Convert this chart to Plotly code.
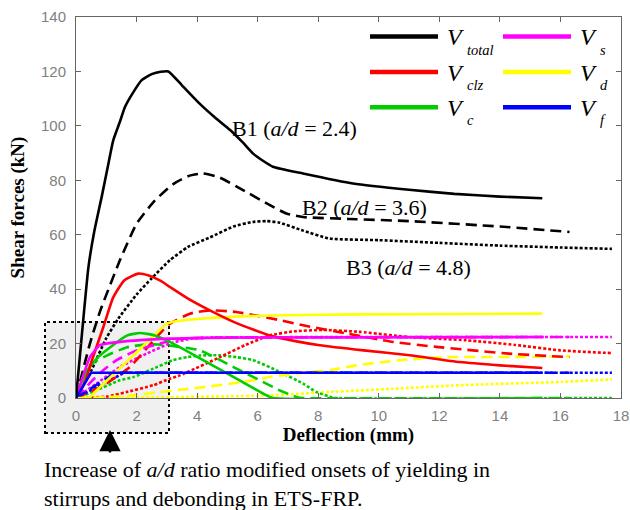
import plotly.graph_objects as go

# ---------------- data (deflection in mm, shear force in kN) ----------------
# Beam B1 (a/d = 2.4), solid lines
B1_total_x = [0, 0.2, 0.41, 0.6, 0.85, 1.05, 1.23, 1.45, 1.62, 1.9, 2.17, 2.5, 2.8, 3.05, 3.5, 4.1, 4.6, 5.1, 5.5, 5.85, 6.2, 6.5, 7.5, 9.15, 11, 12.5, 14, 15.4]
B1_total_y = [0, 24, 48, 61, 74, 85, 94.7, 101.5, 107, 112.5, 116.8, 119, 119.9, 120, 114.9, 108, 103, 98.4, 94, 89.8, 87, 85, 82.5, 78.8, 76.5, 75, 74, 73.4]
B1_clz_x = [0, 0.3, 0.53, 0.9, 1.23, 1.6, 2.06, 2.4, 2.8, 3.1, 3.7, 4.42, 5.3, 6.4, 7.2, 8.05, 9.5, 11.02, 12.67, 14, 15.4]
B1_clz_y = [0, 6, 14, 26, 37, 43.3, 45.7, 45, 43, 40.8, 36.5, 32.2, 27.5, 23, 21, 19.4, 17.5, 15.7, 13.2, 12, 11]
B1_c_x = [0, 0.3, 0.68, 1.23, 1.7, 2.11, 2.6, 3.1, 4.2, 5.3, 6.29, 6.5, 15.4]
B1_c_y = [0, 9, 14.5, 19.5, 23, 23.9, 23, 20.6, 13.9, 7.1, 1, 0, 0]
B1_s_x = [0, 0.2, 0.46, 0.79, 1.45, 3.1, 5, 15.4]
B1_s_y = [0, 7, 15, 19.4, 20.6, 21.8, 22.2, 22.4]
B1_d_x = [0, 0.45, 0.68, 1.34, 2.0, 2.6, 3.0, 3.2, 4.2, 6, 8, 11, 15.4]
B1_d_y = [0, 0.3, 2.8, 9.8, 16.8, 23.2, 27.3, 28, 29.2, 30.2, 30.6, 30.8, 31]
B1_f_x = [0, 0.5, 15.4]
B1_f_y = [0, 9.3, 9.3]

# Beam B2 (a/d = 3.6), dashed lines
B2_total_x = [0, 0.46, 0.8, 1.45, 2.0, 2.6, 3.2, 3.7, 4.2, 4.75, 5.5, 6.3, 6.95, 7.5, 9, 11, 14, 16.3]
B2_total_y = [0, 20, 32, 50.6, 64, 72.5, 78.5, 81.5, 82.5, 81, 76.5, 71.5, 67.8, 66.5, 65.8, 65, 63, 61]
B2_clz_x = [0, 0.9, 1.78, 2.66, 3.1, 3.76, 4.42, 5.3, 6.73, 7.5, 8.93, 10.47, 11.9, 14.3, 16.3]
B2_clz_y = [0, 4.6, 11.4, 22.4, 27.3, 31, 32.2, 31.6, 28.6, 26.7, 23.7, 20.6, 18.8, 16.3, 15]
B2_c_x = [0, 0.46, 1.0, 1.67, 2.4, 2.77, 3.0, 4.09, 5.3, 6.07, 6.73, 7.3, 7.5, 16.3]
B2_c_y = [0, 12, 15.5, 18.6, 19.8, 19.6, 19.4, 17.5, 10.8, 6.5, 2.8, 0.3, 0, 0]
B2_s_x = [0, 0.5, 0.9, 1.34, 2.0, 2.77, 3.5, 5, 16.3]
B2_s_y = [0, 6, 10.2, 13.9, 17.5, 20, 21.8, 22.2, 22.4]
B2_d_x = [0, 1.0, 1.9, 2.77, 3.76, 5.52, 6.4, 7.72, 8.38, 9.26, 10.7, 12.1, 14.5, 16.3]
B2_d_y = [0, 0.3, 1, 2.2, 3.4, 5.9, 7.7, 9.6, 10.2, 12, 13.9, 15, 15.1, 15.3]
B2_f_x = [0, 1.3, 16.3]
B2_f_y = [0, 9.3, 9.3]

# Beam B3 (a/d = 4.8), dotted lines
B3_total_x = [0, 0.5, 1.0, 1.4, 2.0, 2.5, 3.1, 3.7, 4.42, 5.2, 5.84, 6.3, 6.7, 7.5, 8.38, 10, 12, 14, 16, 17.7]
B3_total_y = [0, 10, 22, 29.2, 38, 44, 50.6, 55.5, 59, 63, 64.7, 65, 64.5, 61.5, 58.6, 58, 57, 56, 55.3, 54.8]
B3_clz_x = [0, 1.0, 1.67, 2.55, 3.1, 3.43, 4.75, 5.6, 6.4, 7.2, 8.16, 9.37, 11, 12.9, 14.5, 16, 17.7]
B3_clz_y = [0, 0.5, 2.2, 4.7, 7.1, 8.3, 15, 19.5, 23, 24.5, 25, 24.3, 22.4, 21.2, 19.5, 17.5, 16.5]
B3_c_x = [0, 0.5, 1.45, 1.9, 2.5, 3.2, 3.66, 4.09, 4.75, 5.3, 5.85, 6.73, 7.5, 7.94, 8.38, 8.6, 17.7]
B3_c_y = [0, 2, 6.5, 7.7, 10.5, 13.9, 15, 15.6, 15.7, 15, 13.9, 9.6, 5.3, 2.2, 0.5, 0, 0]
B3_s_x = [0, 0.68, 1.45, 2.33, 3.1, 3.8, 4.5, 17.7]
B3_s_y = [0, 5.3, 11.4, 16.3, 20, 21.8, 22.2, 22.4]
B3_d_x = [0, 3.1, 5, 6.4, 8.38, 10.47, 12.67, 16, 17.7]
B3_d_y = [0, 0.3, 0.6, 1, 2.2, 3.4, 4.7, 5.9, 6.8]
B3_f_x = [0, 1.6, 17.7]
B3_f_y = [0, 9.3, 9.3]

x_ticks = [0, 2, 4, 6, 8, 10, 12, 14, 16, 18]
y_ticks = [0, 20, 40, 60, 80, 100, 120, 140]

beam_labels = ["B1 (<i>a/d</i> = 2.4)", "B2 (<i>a/d</i> = 3.6)", "B3 (<i>a/d</i> = 4.8)"]
beam_label_x = [7.23, 9.52, 10.97]
beam_label_y = [99.2, 70.1, 48.0]

comp_names = ["total", "clz", "c", "s", "d", "f"]
caption = ("Increase of <i>a/d</i> ratio modified onsets of yielding in<br>"
           "stirrups and debonding in ETS-FRP.")

# ---------------- styles ----------------
colors = {"total": "#000000", "clz": "#ff0000", "c": "#00cc00",
          "s": "#ff00ff", "d": "#ffff00", "f": "#0000ff"}
dashes = {"B1": "solid", "B2": "11px,6px", "B3": "3px,2px"}
SERIF = "Liberation Serif, Times New Roman, serif"
SANS = "Liberation Sans, Arial, sans-serif"

beams = {
    "B1": {"total": (B1_total_x, B1_total_y), "clz": (B1_clz_x, B1_clz_y), "c": (B1_c_x, B1_c_y),
           "s": (B1_s_x, B1_s_y), "d": (B1_d_x, B1_d_y), "f": (B1_f_x, B1_f_y)},
    "B2": {"total": (B2_total_x, B2_total_y), "clz": (B2_clz_x, B2_clz_y), "c": (B2_c_x, B2_c_y),
           "s": (B2_s_x, B2_s_y), "d": (B2_d_x, B2_d_y), "f": (B2_f_x, B2_f_y)},
    "B3": {"total": (B3_total_x, B3_total_y), "clz": (B3_clz_x, B3_clz_y), "c": (B3_c_x, B3_c_y),
           "s": (B3_s_x, B3_s_y), "d": (B3_d_x, B3_d_y), "f": (B3_f_x, B3_f_y)},
}

fig = go.Figure()
draw_order = ["d", "c", "clz", "s", "f", "total"]
for beam in ["B3", "B2", "B1"]:
    for comp in draw_order:
        xs, ys = beams[beam][comp]
        shape = "linear" if comp == "f" else "spline"
        fig.add_trace(go.Scatter(
            x=xs, y=ys, mode="lines", name=f"{beam} V{comp}", showlegend=False,
            line=dict(color=colors[comp], width=2.6, dash=dashes[beam],
                      shape=shape, smoothing=0.5),
            hoverinfo="skip"))

# plot geometry (pixels)
W, H = 630, 510
ML, MR, MT, MB = 76, 9, 17, 112
PW, PH = W - ML - MR, H - MT - MB


def px(x):
    return (x - ML) / PW


def py(y):
    return (H - MB - y) / PH


shapes = []
# highlighted gray box around the initial region
shapes.append(dict(type="rect", xref="paper", yref="paper",
                   x0=px(45), x1=px(169), y0=py(433), y1=py(322),
                   fillcolor="#f0f0f0", line=dict(color="black", width=2, dash="dot"),
                   layer="below"))

annotations = []
# beam labels
for t, bx, by in zip(beam_labels, beam_label_x, beam_label_y):
    annotations.append(dict(x=bx, y=by, xref="x", yref="y", text=t, showarrow=False,
                            font=dict(family=SERIF, size=22, color="black"),
                            xanchor="center", yanchor="middle"))

# custom legend (two columns, three rows)
leg_rows = [36.5, 72, 107.3]
leg_cols = [(370, 438, 465), (503, 571, 598)]
leg_layout = [["total", "clz", "c"], ["s", "d", "f"]]
for ci, col in enumerate(leg_layout):
    x0, x1, vx = leg_cols[ci]
    for ri, comp in enumerate(col):
        yy = leg_rows[ri]
        shapes.append(dict(type="line", xref="paper", yref="paper",
                           x0=px(x0), x1=px(x1), y0=py(yy), y1=py(yy),
                           line=dict(color=colors[comp], width=4.5)))
        annotations.append(dict(x=px(vx), y=py(yy + 1), xref="paper", yref="paper",
                                text="<i>V</i>", showarrow=False, borderpad=0,
                                xanchor="right", yanchor="middle",
                                font=dict(family=SERIF, size=24, color="black")))
        annotations.append(dict(x=px(vx + 0.5), y=py(yy + 13), xref="paper", yref="paper",
                                text=f"<i>{comp}</i>", showarrow=False, borderpad=0,
                                xanchor="left", yanchor="middle",
                                font=dict(family=SERIF, size=14.5, color="black")))

# arrow under the box
annotations.append(dict(x=px(110), y=py(430), xref="paper", yref="paper",
                        ax=0, ay=24, axref="pixel", ayref="pixel", text="",
                        showarrow=True, arrowhead=2, arrowsize=1.7, arrowwidth=2.5,
                        arrowcolor="black"))
# caption
annotations.append(dict(x=px(42), y=py(484.5), xref="paper", yref="paper",
                        text=caption, showarrow=False, xanchor="left", yanchor="middle",
                        align="left", font=dict(family=SERIF, size=22, color="black")))

axis_common = dict(showgrid=False, zeroline=False, showline=True, linecolor="#666666",
                   linewidth=1, ticks="inside", ticklen=5, tickcolor="#666666",
                   mirror="ticks", automargin=False,
                   tickfont=dict(family=SANS, size=15, color="#808080"))

fig.update_layout(
    width=W, height=H, autosize=False,
    margin=dict(l=ML, r=MR, t=MT, b=MB, autoexpand=False),
    paper_bgcolor="white", plot_bgcolor="rgba(0,0,0,0)",
    xaxis=dict(range=[0, 18], tickvals=x_ticks, ticktext=[str(v) for v in x_ticks],
               ticklabelstandoff=4,
               title=dict(text="<b>Deflection (mm)</b>", standoff=2,
                          font=dict(family=SERIF, size=19, color="black")),
               **axis_common),
    yaxis=dict(range=[0, 140], tickvals=y_ticks, ticktext=[str(v) for v in y_ticks],
               ticklabelstandoff=6,
               title=dict(text="<b>Shear forces (kN)</b>", standoff=11,
                          font=dict(family=SERIF, size=19, color="black")),
               **axis_common),
    shapes=shapes, annotations=annotations, showlegend=False,
)

fig.write_html("out.html", config={"displayModeBar": False},
               post_script="document.body.style.margin='0px';")
